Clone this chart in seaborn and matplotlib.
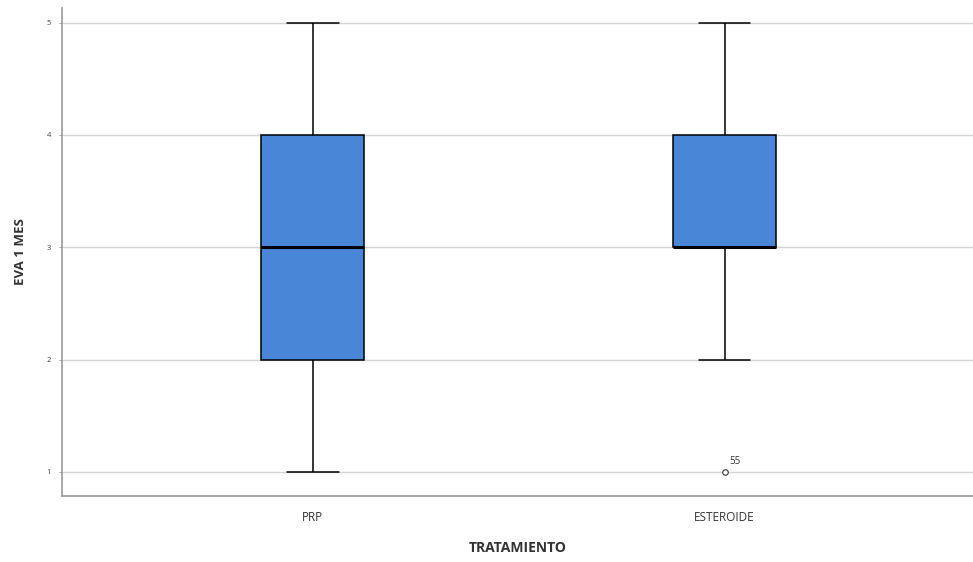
import matplotlib
matplotlib.use("Agg")
import matplotlib.pyplot as plt
import seaborn as sns
import pandas as pd

# EVA score at 1 month per treatment group (read from the box summary)
prp_scores = [1, 2, 2, 3, 3, 3, 4, 4, 5]
esteroide_scores = [1, 2, 3, 3, 3, 3, 3, 4, 4, 4, 4, 5]
groups = ["PRP", "ESTEROIDE"]
outlier_case = "55"
y_ticks = [1, 2, 3, 4, 5]

df = pd.DataFrame({
    "TRATAMIENTO": ["PRP"] * len(prp_scores) + ["ESTEROIDE"] * len(esteroide_scores),
    "EVA 1 MES": prp_scores + esteroide_scores,
})

sns.set_style("white")
plt.rcParams["font.family"] = ["Open Sans", "DejaVu Sans"]

fig = plt.figure(figsize=(9.73, 5.62), dpi=100)
ax = fig.add_axes([0.0637, 0.1174, 0.9363, 0.8684])

ax.yaxis.grid(True, color="#d4d4d4", linewidth=1.0, zorder=0)
ax.set_axisbelow(True)

sns.boxplot(data=df, x="TRATAMIENTO", y="EVA 1 MES", order=groups, ax=ax,
            width=0.25, color="#4a86d8", saturation=1, linecolor="black",
            linewidth=1.1, whis=1.5,
            medianprops=dict(color="black", linewidth=2.2),
            flierprops=dict(marker="o", markersize=4, markerfacecolor="white",
                            markeredgecolor="#333333", markeredgewidth=0.8))

# case label next to the outlier
ax.annotate(outlier_case, xy=(1, min(esteroide_scores)), xytext=(3, 6),
            textcoords="offset points", fontsize=7, color="#333333")

ax.set_xlim(-0.609, 1.603)
ax.set_ylim(0.786, 5.13)
ax.set_yticks(y_ticks)
ax.set_yticklabels([str(v) for v in y_ticks], fontsize=5.5, color="#444444")
ax.tick_params(axis="x", labelsize=8.5, colors="#333333", length=0, pad=11)
ax.tick_params(axis="y", length=2, width=0.6, color="#999999", pad=6, left=True)

ax.set_xlabel("TRATAMIENTO", fontsize=10, fontweight="bold", color="#333333", labelpad=12)
ax.set_ylabel("EVA 1 MES", fontsize=9.5, fontweight="bold", color="#333333", labelpad=14)

for side in ["top", "right"]:
    ax.spines[side].set_visible(False)
for side in ["left", "bottom"]:
    ax.spines[side].set_color("#9a9a9a")
    ax.spines[side].set_linewidth(1.2)

fig.savefig("out.png", dpi=100)
